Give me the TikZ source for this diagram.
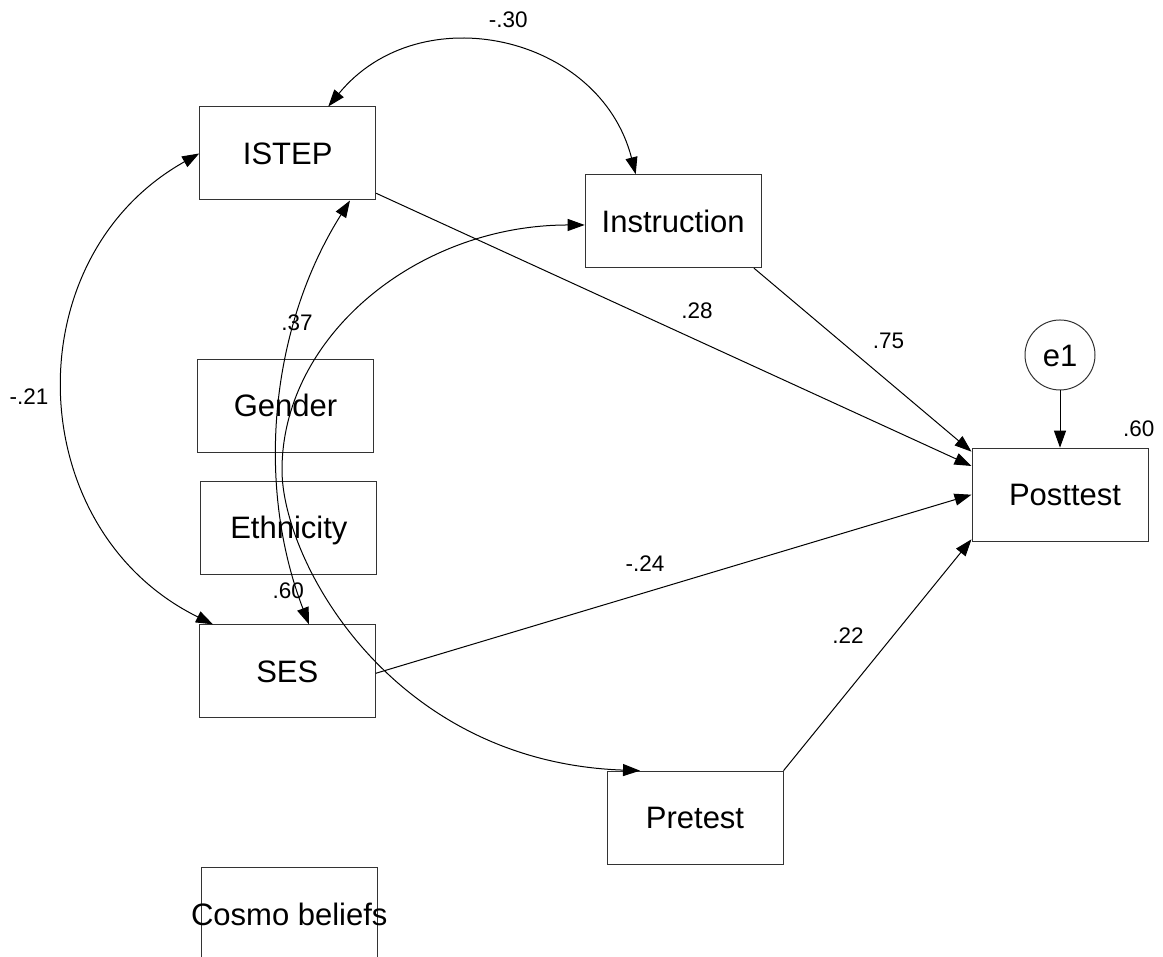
\documentclass[tikz,border=0pt]{standalone}
\usepackage{fontspec}
\setmainfont{Liberation Sans}
\usetikzlibrary{arrows.meta}
\begin{document}
\begin{tikzpicture}[x=1pt,y=1pt,
  box/.style={draw=black!80, line width=1pt, minimum width=176pt, minimum height=93pt, inner sep=0pt,
    font=\fontsize{31}{37}\selectfont, text height=22.2pt, text depth=0pt},
  ell/.style={draw=black!80, line width=1pt, circle, minimum size=70pt, inner sep=0pt,
    font=\fontsize{31}{37}\selectfont, text height=22.2pt, text depth=0pt},
  lab/.style={inner sep=0pt, font=\fontsize{22.5}{27}\selectfont, text height=16.1pt, text depth=0pt},
  tip/.tip={Triangle[length=17pt,width=12pt]},
  con/.style={line width=1pt, -tip},
  cov/.style={line width=1pt, tip-tip}]
\useasboundingbox (0,0) rectangle (1163,957);
\clip (0,0) rectangle (1163,957);

% nodes
\node[box] (istep) at (287.7,803.5) {ISTEP};
\node[box] (instr) at (673.2,735.8) {Instruction};
\node[box] (gender) at (285.5,551.2) {Gender};
\node[box] (eth) at (288.9,429.3) {Ethnicity};
\node[box] (ses) at (287.3,285.6) {SES};
\node[box] (cosmo) at (289.3,42.5) {\makebox[0pt][c]{Cosmo beliefs}};
\node[box] (post) at (1060,462.3) {\hspace*{10pt}Posttest};
\node[box] (pre) at (695,139.3) {Pretest};
\node[ell] (e1) at (1060,602) {e1};

% attachment points
\coordinate (s1) at ([yshift=-39.8pt]istep.east);
\coordinate (t1) at ([yshift=28.7pt]post.west);
\coordinate (s2) at ([xshift=80.8pt]instr.south);
\coordinate (t2) at ([yshift=43pt]post.west);
\coordinate (s3) at ([yshift=-1.9pt]ses.east);
\coordinate (t3) at (post.west);
\coordinate (s4) at (pre.north east);
\coordinate (t4) at ([yshift=-44.6pt]post.west);

\coordinate (a1) at ([xshift=40.6pt]istep.north);
\coordinate (b1) at ([xshift=-37.5pt]instr.north);
\coordinate (a2) at (istep.west);
\coordinate (b2) at ([xshift=-74.3pt]ses.north);
\coordinate (a3) at ([xshift=62.3pt]istep.south);
\coordinate (b3) at ([xshift=21.7pt]ses.north);
\coordinate (a4) at ([yshift=-3.8pt]instr.west);
\coordinate (l4) at (282,487);
\coordinate (b4) at ([xshift=-55pt]pre.north);

% regression paths
\draw[con] (s1) -- (t1);
\draw[con] (s2) -- (t2);
\draw[con] (s3) -- (t3);
\draw[con] (s4) -- (t4);
\draw[con] (e1) -- (post.north);

% covariances
\draw[cov] (a1) to[out=50.7, in=104.4, looseness=1.17] (b1);
\draw[cov] (a2) to[out=209.3, in=153.8, looseness=1.161] (b2);
\draw[cov] (a3) to[out=237.75, in=111, looseness=0.899] (b3);
\draw[cov] (a4) to[out=180, in=90, out distance=167pt, in distance=134pt] (l4)
               to[out=270, in=178, out distance=90pt, in distance=250pt] (b4);

% labels
\node[lab] (l30) at (508.3,938) {-.30};
\node[lab] (l37) at (297,635) {.37};
\node[lab] (l60a) at (288.3,367) {.60};
\node[lab] (l21) at (29,560.5) {-.21};
\node[lab] (l28) at (697,647) {.28};
\node[lab] (l75) at (888.5,617) {.75};
\node[lab] (l60b) at (1138.7,529) {.60};
\node[lab] (l24) at (645,393.5) {-.24};
\node[lab] (l22) at (848,322) {.22};
\end{tikzpicture}
\end{document}
